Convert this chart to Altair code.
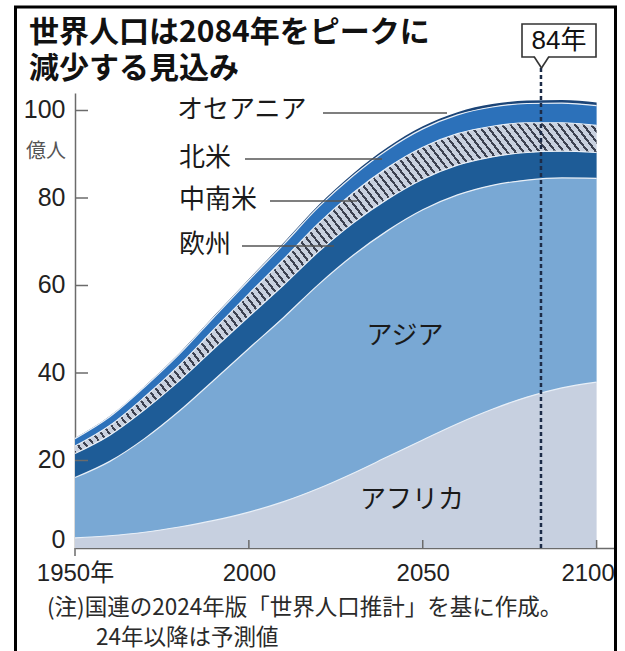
import altair as alt
import numpy as np
import pandas as pd

# World population by region, 100 millions (億人); UN WPP 2024, projections after 2024
years = [1950, 1960, 1970, 1980, 1990, 2000, 2010, 2020, 2030, 2040, 2050, 2060, 2070, 2080, 2090, 2100]
africa = [2.3, 2.8, 3.6, 4.8, 6.3, 8.2, 10.6, 13.6, 17.1, 20.9, 24.7, 28.4, 31.7, 34.5, 36.6, 37.9]
asia = [13.8, 17.0, 21.4, 26.5, 32.1, 37.4, 42.1, 46.6, 49.8, 51.7, 52.6, 52.3, 51.2, 49.6, 48.0, 46.6]
europe = [5.5, 6.0, 6.6, 6.9, 7.2, 7.3, 7.4, 7.5, 7.4, 7.2, 7.0, 6.8, 6.5, 6.3, 6.1, 5.9]
latam = [1.7, 2.2, 2.9, 3.6, 4.4, 5.2, 5.9, 6.5, 6.9, 7.2, 7.3, 7.2, 7.0, 6.8, 6.5, 6.2]
namer = [1.7, 2.0, 2.3, 2.5, 2.8, 3.1, 3.4, 3.7, 3.9, 4.1, 4.2, 4.3, 4.4, 4.4, 4.5, 4.5]
oceania = [0.13, 0.16, 0.20, 0.23, 0.27, 0.31, 0.37, 0.43, 0.48, 0.53, 0.58, 0.62, 0.66, 0.69, 0.71, 0.74]

regions = ["アフリカ", "アジア", "欧州", "中南米", "北米", "オセアニア"]
series = [africa, asia, europe, latam, namer, oceania]

peak_year = [2084]
x_tick_years = [2000, 2050, 2100]
y_tick_values = [20, 40, 60, 80, 100]

rows = []
for k, (name, vals) in enumerate(zip(regions, series)):
    for yr, v in zip(years, vals):
        rows.append({"year": yr, "region": name, "order": k, "value": v})
df = pd.DataFrame(rows)

# ---- layout (page pixels) ----
W, H = 539, 455
OX, OY = 75, 93              # top-left corner of the plot area on the page
X_MAX, Y_MAX = 2105, 104
JP = "Noto Sans CJK JP"
NUM = "Liberation Sans, Noto Sans CJK JP"

xs = alt.Scale(domain=[1950, X_MAX], nice=False, zero=False)
ys = alt.Scale(domain=[0, Y_MAX], nice=False)

# ---- diagonal hatching for the 中南米 band, built as a hard-stop linear gradient ----
cum = np.cumsum(np.array(series), axis=0)
band_lo, band_hi = cum[2].min(), cum[3].max()
Wb = (years[-1] - years[0]) * W / (X_MAX - 1950)
Hb = (band_hi - band_lo) * H / Y_MAX
sdx, sdy = 1.0, 1.3                      # stripe direction on screen (down-right)
ux, uy = sdx / Wb, sdy / Hb
vx, vy = uy, -ux
nv = np.hypot(vx, vy)
vx, vy = vx / nv, vy / nv
proj = [cx * vx + cy * vy for cx, cy in [(0, 0), (1, 0), (0, 1), (1, 1)]]
pmin, pmax = min(proj), max(proj)
g = np.hypot(vx / (Wb * (pmax - pmin)), vy / (Hb * (pmax - pmin)))
period = 6.4
n_stripes = int(round((1 / g) / period))
dark_frac = 0.33
HATCH_DARK, HATCH_LIGHT = "#3c4150", "#c9d1df"
stops = []
for i in range(n_stripes):
    s = i / n_stripes
    m = (i + dark_frac) / n_stripes
    e = (i + 1) / n_stripes
    stops += [
        {"offset": round(s, 6), "color": HATCH_DARK},
        {"offset": round(m, 6), "color": HATCH_DARK},
        {"offset": round(m, 6), "color": HATCH_LIGHT},
        {"offset": round(min(e, 1.0), 6), "color": HATCH_LIGHT},
    ]
hatch = {
    "gradient": "linear",
    "x1": float(pmin * vx), "y1": float(pmin * vy),
    "x2": float(pmax * vx), "y2": float(pmax * vy),
    "stops": stops,
}

fills = {
    "アフリカ": "#c7d0e0",
    "アジア": "#79a8d4",
    "欧州": "#1e5c97",
    "中南米": hatch,
    "北米": "#2c71ba",
    "オセアニア": "#1b4477",
}

stacked = alt.Chart(df).transform_stack(
    stack="value", groupby=["year"], as_=["y0", "y1"], sort=[alt.SortField("order")]
)

x_axis = alt.Axis(
    values=[1950, 2000, 2050, 2100],
    labelExpr="datum.value == 1950 ? '1950年' : toString(datum.value)",
    labelOffset={"condition": {"test": "datum.value == 2100", "value": -9}, "value": 0},
    labelFlush=False,
    tickSize=0, labelPadding=13, labelFontSize=24, labelFont=NUM, labelColor="#222",
    domainColor="#6b6b6b", domainWidth=1.5, grid=False, title=None,
)
y_axis = alt.Axis(
    values=[0, 20, 40, 60, 80, 100],
    labelOffset={"condition": {"test": "datum.value == 0", "value": -9}, "value": -1},
    tickSize=0, labelPadding=10, labelFontSize=25, labelFont=NUM, labelColor="#222",
    domainColor="#6b6b6b", domainWidth=1.5, grid=False, title=None,
)


def X(field):
    return alt.X(field, scale=xs, axis=x_axis)


def Y(field):
    return alt.Y(field, scale=ys, axis=y_axis)


layers = []
for name in regions:
    layers.append(
        stacked.transform_filter(alt.datum.region == name)
        .mark_area(fill=fills[name], interpolate="monotone")
        .encode(x=X("year:Q"), y=Y("y0:Q"), y2="y1:Q")
    )

# light seams between the stacked bands
layers.append(
    stacked.transform_filter(alt.datum.order < 5)
    .mark_line(stroke="#e8eff7", strokeWidth=1.2, interpolate="monotone")
    .encode(x=X("year:Q"), y=Y("y1:Q"), detail="region:N")
)

one = pd.DataFrame({"k": [0]})


def rule(x1, y1, x2, y2, color="#555", width=1.5, **kw):
    return alt.Chart(one).mark_rule(color=color, strokeWidth=width, **kw).encode(
        x=alt.value(x1 - OX), x2=alt.value(x2 - OX), y=alt.value(y1 - OY), y2=alt.value(y2 - OY)
    )


def text(s, px, py, size, align="left", font=JP, color="#1a1a1a", **kw):
    return alt.Chart(one).mark_text(
        text=s, fontSize=size, font=font, align=align, baseline="middle", color=color, **kw
    ).encode(x=alt.value(px - OX), y=alt.value(py - OY))


# dotted marker at the peak year, running up to the callout
layers.append(
    alt.Chart(pd.DataFrame({"yr": peak_year}))
    .mark_rule(color="#1c2b47", strokeWidth=2.5, strokeDash=[4, 3])
    .encode(x=X("yr:Q"), y=alt.value(H), y2=alt.value(68 - OY))
)

# inward ticks
layers.append(
    alt.Chart(pd.DataFrame({"v": y_tick_values}))
    .mark_rule(color="#6b6b6b", strokeWidth=1.5)
    .encode(y=Y("v:Q"), x=alt.value(0), x2=alt.value(13))
)
layers.append(
    alt.Chart(pd.DataFrame({"t": x_tick_years}))
    .mark_rule(color="#6b6b6b", strokeWidth=1.5)
    .encode(x=X("t:Q"), y=alt.value(H - 8), y2=alt.value(H))
)
layers.append(rule(OX, OY + H, OX, OY + H + 8, color="#6b6b6b"))

# leader lines and region labels
layers += [
    rule(323, 113, 447, 113),
    rule(245, 159, 382, 159),
    rule(270, 201, 357, 201),
    rule(242, 246, 334, 246),
    text("オセアニア", 177, 110, 26),
    text("北米", 179, 158, 26),
    text("中南米", 179, 200, 26),
    text("欧州", 179, 245, 26),
    text("アジア", 405, 336, 26, align="center"),
    text("アフリカ", 412, 500, 26, align="center"),
    text("億人", 46, 152, 20, align="center", color="#555"),
]

# two-line headline as a single text block (first line anchored)
layers.append(
    text(["世界人口は2084年をピークに", "減少する見込み"], 29, 33, 30,
         fontWeight="bold", color="#111", lineHeight=36)
)

# note
layers += [
    text("(注)国連の2024年版「世界人口推計」を基に作成。", 47, 608, 22.5, color="#2a2a2a"),
    text("24年以降は予測値", 96, 638, 22.5, color="#2a2a2a"),
]

# callout box for the peak year
layers += [
    alt.Chart(one).mark_rect(fill="white", stroke="#333", strokeWidth=1.6).encode(
        x=alt.value(522 - OX), x2=alt.value(596 - OX), y=alt.value(24 - OY), y2=alt.value(57 - OY)
    ),
    rule(534, 57, 549, 57, color="white", width=3),
    rule(534, 56.5, 541.5, 68, color="#333", width=1.6),
    rule(549, 56.5, 541.5, 68, color="#333", width=1.6),
    text("84年", 559, 41, 26, align="center", font=NUM, color="#111"),
]

# outer frame
layers.append(
    alt.Chart(one).mark_rect(fillOpacity=0, stroke="#000", strokeWidth=3).encode(
        x=alt.value(15.5 - OX), x2=alt.value(615.5 - OX), y=alt.value(7 - OY), y2=alt.value(700 - OY)
    )
)

chart = (
    alt.layer(*layers)
    .properties(
        width=W,
        height=H,
        padding={"left": OX, "top": OY, "right": 625 - OX - W, "bottom": 651 - OY - H},
        autosize="none",
        background="white",
    )
    .configure_view(stroke=None)
)

chart.save("out.html", embed_options={"renderer": "svg", "actions": False})
